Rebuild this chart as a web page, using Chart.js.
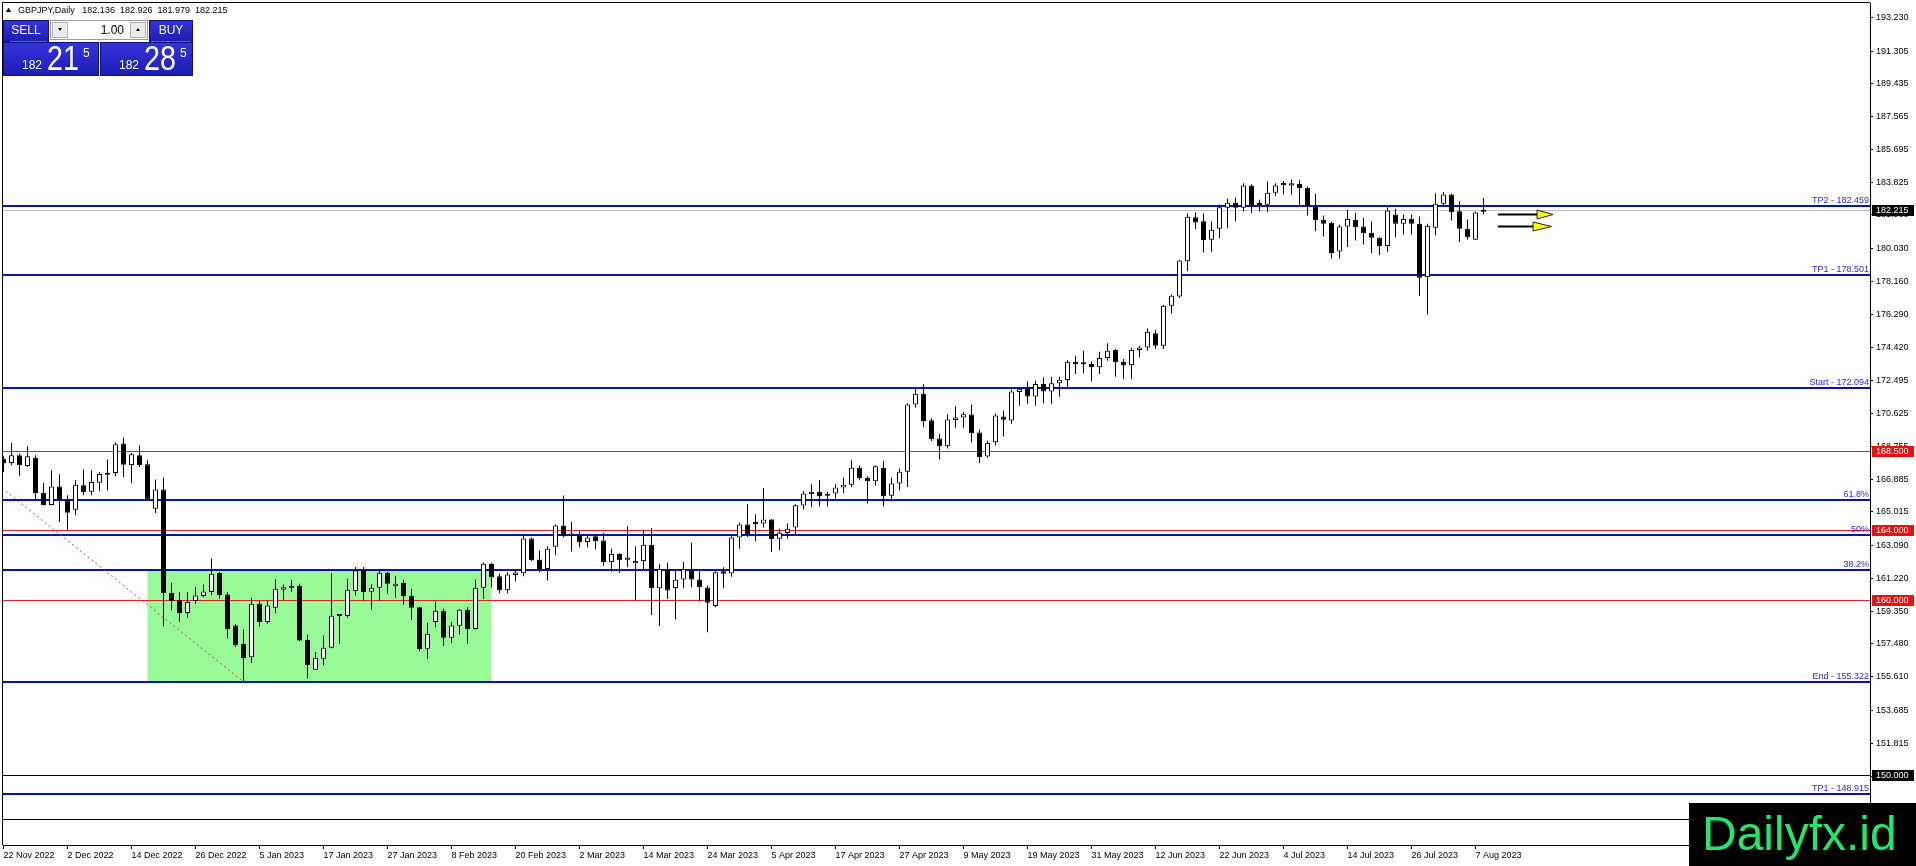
<!DOCTYPE html>
<html><head><meta charset="utf-8">
<script src="https://cdn.jsdelivr.net/npm/chart.js@4.4.0/dist/chart.umd.min.js"></script>
<style>html,body{margin:0;padding:0;background:#fff;overflow:hidden}canvas{display:block}</style>
</head><body>
<canvas id="c" width="1916" height="866"></canvas>
<script>
const symbolTitle = 'GBPJPY,Daily';
const opens = [168.05,167.81,168.24,167.64,168.11,166.11,165.41,166.46,165.68,165.14,166.53,166.17,166.68,167.14,167.24,168.91,167.69,168.24,167.73,165.20,
166.29,160.41,159.97,159.25,159.93,160.22,160.45,161.53,160.31,158.53,157.50,156.73,159.77,158.73,159.55,160.57,160.69,160.80,157.72,156.01,
156.64,157.26,159.09,159.07,160.50,161.71,160.46,160.69,161.54,160.78,160.97,160.23,159.57,157.21,158.73,159.37,157.83,158.52,159.43,158.33,
160.69,162.05,161.35,160.55,161.42,161.52,163.50,162.30,161.76,163.02,164.24,163.65,163.74,163.30,163.63,163.38,162.15,162.62,162.28,162.09,
162.22,163.14,160.66,161.76,160.68,161.16,161.76,161.16,160.70,159.64,161.63,161.50,163.55,164.29,164.46,164.35,164.58,163.49,163.81,164.12,
165.38,166.04,166.17,166.02,166.06,166.40,166.57,167.54,166.97,166.76,167.54,165.93,166.63,167.30,171.14,171.76,170.24,169.20,168.76,170.26,
170.40,170.57,169.54,168.17,168.99,170.46,170.23,171.85,172.04,171.60,172.31,171.89,172.35,172.54,173.58,173.45,173.45,173.26,173.79,174.25,
173.58,173.39,174.25,174.40,175.20,174.50,176.78,177.31,179.31,181.82,181.59,180.54,181.17,182.36,182.65,182.36,183.64,182.54,182.54,183.22,
183.68,183.64,183.73,183.51,182.44,181.68,181.51,179.87,181.30,181.68,181.30,180.94,180.65,180.18,181.98,181.45,181.74,181.45,178.41,181.22,
182.59,183.12,182.16,181.17,180.54,182.136];
const highs = [168.19,168.95,168.34,168.76,168.24,166.67,167.39,167.16,165.96,166.82,167.43,167.39,167.29,168.00,168.97,169.25,168.38,168.81,167.96,166.86,
166.97,160.98,160.45,160.45,160.73,160.87,162.35,161.59,160.45,158.60,158.30,160.12,159.93,159.93,161.18,160.88,161.14,160.91,158.02,157.02,
157.97,161.52,159.15,161.20,161.87,161.87,160.88,161.73,161.58,161.37,161.16,160.63,159.60,158.69,159.91,159.49,158.73,159.46,159.58,161.16,
162.13,162.11,161.48,161.57,161.67,163.70,163.55,162.81,163.06,164.29,165.95,164.46,163.89,163.67,163.70,163.82,162.91,162.65,164.20,163.06,
164.01,164.08,162.05,162.11,161.76,162.15,163.25,161.76,160.81,161.63,161.86,163.63,164.39,165.45,164.88,166.38,164.61,164.06,164.35,165.45,
166.21,166.59,166.82,166.17,166.59,166.97,167.96,167.66,167.05,167.68,167.92,166.97,167.49,171.21,172.11,172.30,170.34,169.48,170.59,171.04,
170.72,171.14,169.70,169.09,170.61,170.80,172.00,172.12,172.46,172.50,172.69,172.73,172.73,173.68,173.93,174.21,173.60,174.15,174.63,174.31,
173.74,174.36,174.50,175.48,175.39,176.83,177.41,179.38,182.04,182.10,182.04,181.58,182.55,182.88,182.93,183.77,183.70,182.82,183.87,183.77,
183.89,183.98,183.96,183.58,183.16,181.93,181.58,181.40,182.25,182.06,181.79,181.60,180.69,182.40,182.31,181.98,181.98,181.87,181.45,183.20,
183.26,183.16,182.73,181.70,182.15,182.926];
const lows = [167.29,167.67,167.07,167.58,165.72,165.38,165.39,164.44,164.00,164.84,165.96,165.96,166.21,166.25,167.05,167.01,166.67,167.58,165.70,164.95,
158.49,159.40,158.74,158.98,159.78,160.16,160.26,160.07,157.79,157.31,155.33,156.39,158.48,158.63,159.24,159.96,160.44,157.64,155.53,156.00,
156.26,157.24,157.49,158.98,160.25,159.93,159.43,159.93,160.34,160.12,159.72,158.86,157.07,156.64,158.44,157.36,157.53,158.02,157.49,158.30,
160.04,160.72,160.38,160.38,161.04,161.35,162.22,161.57,161.10,162.56,163.57,162.75,163.00,163.00,162.87,161.95,161.61,161.54,161.86,159.96,
161.76,159.14,158.50,160.05,158.87,160.66,160.72,159.90,158.15,159.58,160.66,161.31,162.92,163.59,163.36,164.12,162.73,162.83,163.49,163.74,
165.15,165.30,165.34,165.34,165.77,166.10,166.44,166.82,165.49,166.50,165.34,165.61,166.25,166.44,170.97,169.86,169.06,168.00,168.63,169.82,
169.82,168.99,167.81,168.10,168.80,169.32,170.04,171.07,171.17,171.07,171.21,171.17,171.59,172.08,172.88,172.92,172.46,172.88,173.64,172.73,
172.59,172.59,173.83,174.21,174.31,174.31,176.34,177.22,178.74,181.15,179.82,179.84,180.63,181.20,181.60,182.17,182.06,182.17,182.12,183.03,
183.13,183.11,182.46,181.93,181.03,180.73,179.45,179.45,180.12,180.50,180.27,179.78,179.65,179.84,180.69,180.84,180.84,177.33,176.26,180.79,
182.50,181.64,180.41,180.56,180.54,181.979];
const closes = [167.77,168.24,167.69,168.19,166.10,165.41,166.46,165.68,164.97,166.57,166.15,166.72,167.18,167.24,168.87,167.71,168.30,167.69,165.72,166.29,
160.39,159.93,159.25,159.88,160.24,160.47,161.49,160.28,158.34,157.41,156.68,159.77,158.73,159.68,160.63,160.71,160.80,157.68,156.28,156.69,
157.26,159.09,159.08,160.57,161.67,160.44,160.69,161.54,160.91,160.91,160.21,159.55,157.19,158.06,159.37,157.83,158.54,159.43,158.33,160.69,
162.06,161.29,160.55,161.44,161.56,163.50,162.26,161.76,162.91,164.24,163.63,163.78,163.29,163.55,163.34,162.15,162.62,162.26,162.41,162.22,
163.14,160.66,161.76,160.53,161.14,161.76,161.16,160.72,159.83,161.57,161.48,163.55,164.29,163.74,164.33,164.58,163.47,163.83,164.06,165.40,
166.06,166.17,165.91,165.93,166.40,166.57,167.54,166.95,166.78,167.62,165.91,166.63,167.30,171.14,171.76,170.20,169.16,168.76,170.28,170.40,
170.59,169.52,168.14,168.95,170.51,170.27,171.88,172.04,171.60,172.31,171.89,172.35,172.56,173.58,173.45,173.44,173.26,173.79,174.21,173.55,
173.36,174.25,174.40,175.29,174.50,176.78,177.35,179.35,181.85,181.53,180.52,181.11,182.40,182.65,182.36,183.64,182.50,182.52,183.22,183.64,
183.67,183.77,183.49,182.44,181.66,181.45,179.78,181.30,181.72,181.26,180.92,180.65,180.18,182.21,181.45,181.72,181.45,178.37,181.34,182.59,
183.12,182.12,181.17,180.69,182.10,182.215];

const xTickLabels = ['22 Nov 2022','2 Dec 2022','14 Dec 2022','26 Dec 2022','5 Jan 2023','17 Jan 2023','27 Jan 2023','8 Feb 2023',
'20 Feb 2023','2 Mar 2023','14 Mar 2023','24 Mar 2023','5 Apr 2023','17 Apr 2023','27 Apr 2023','9 May 2023','19 May 2023',
'31 May 2023','12 Jun 2023','22 Jun 2023','4 Jul 2023','14 Jul 2023','26 Jul 2023','7 Aug 2023'];
const xTickBars = [0,8,16,24,32,40,48,56,64,72,80,88,96,104,112,120,128,136,144,152,160,168,176,184];
const yTicks = [193.230,191.305,189.435,187.565,185.695,183.825,181.960,180.030,178.160,176.290,174.420,172.495,170.625,
168.755,166.885,165.015,163.090,161.220,159.350,157.480,155.610,153.685,151.815,149.945,148.075];

const levelNames = ['TP2 - 182.459','TP1 - 178.501','Start - 172.094','61.8%','50%','38.2%','End - 155.322','TP1 - 148.915'];
const levelValues = [182.459,178.501,172.094,165.687,163.708,161.729,155.322,148.915];
const redLevels = [168.5,164.0,160.0];
const blackLevels = [150.0,147.48];
const labelledBlack = [150.0];
const bidPrice = 182.215;
const askPrice = 182.285;
const lotSize = 1.00;
const boxBars = [18,61];
const boxPrices = [161.729,155.322];
const fibLineBars = [-15.8,30];
const fibLinePrices = [172.094,155.322];
const arrowStartBars = [186.8,186.8];
const arrowBaseBars = [191.7,191.2];
const arrowTipBars = [193.7,193.5];
const arrowPrices = [182.03,181.33];

const FONT = '"Liberation Sans", Arial, sans-serif';
Chart.defaults.font.family = FONT;
Chart.defaults.font.size = 9;
Chart.defaults.color = '#000';

const bodies = opens.map((o,i)=>({x:i, y:[Math.min(o,closes[i]), Math.max(o,closes[i])]}));
const wicks = lows.map((l,i)=>({x:i, y:[l, highs[i]]}));
const bodyColors = opens.map((o,i)=> closes[i] >= o ? '#ffffff' : '#000000');

const overlay = {
  id:'overlay',
  beforeDraw(chart){
    const c = chart.ctx; c.save(); c.fillStyle='#fff'; c.fillRect(0,0,chart.width,chart.height); c.restore();
  },
  beforeDatasetsDraw(chart){
    const {ctx:c, chartArea:a, scales:{x,y}} = chart;
    c.save();
    c.beginPath(); c.rect(a.left,a.top,a.right-a.left,a.bottom-a.top); c.clip();
    const bx0 = x.getPixelForValue(boxBars[0]), bx1 = x.getPixelForValue(boxBars[1]);
    const by0 = y.getPixelForValue(boxPrices[0]), by1 = y.getPixelForValue(boxPrices[1]);
    c.fillStyle = '#98fb98'; c.fillRect(bx0, by0, bx1-bx0, by1-by0);
    c.fillStyle = '#e02020';
    redLevels.forEach(v=>{ const py=Math.round(y.getPixelForValue(v)); c.fillRect(a.left, py, a.right-a.left, 1); });
    c.fillStyle = '#000';
    blackLevels.forEach(v=>{ const py=Math.round(y.getPixelForValue(v)); c.fillRect(a.left, py, a.right-a.left, 1); });
    c.fillStyle = '#c0c0c0';
    { const py=Math.round(y.getPixelForValue(bidPrice)); c.fillRect(a.left, py, a.right-a.left, 1); }
    c.font = '9px ' + FONT; c.textAlign='right'; c.textBaseline='alphabetic';
    levelValues.forEach((v,i)=>{
      const py=Math.round(y.getPixelForValue(v));
      c.fillStyle='#0a14a8'; c.fillRect(a.left, py-1, a.right-a.left, 2);
      c.fillStyle='#2a2ae6'; c.fillText(levelNames[i], a.right-1, py-3);
    });
    c.restore();
  },
  afterDatasetsDraw(chart){
    const {ctx:c, scales:{x,y}} = chart;
    c.save();
    arrowPrices.forEach((v,k)=>{
      const py = Math.round(y.getPixelForValue(v))+0.5;
      const p0 = x.getPixelForValue(arrowStartBars[k]);
      const pb = x.getPixelForValue(arrowBaseBars[k]);
      const pt = x.getPixelForValue(arrowTipBars[k]);
      c.strokeStyle='#000'; c.lineWidth=2;
      c.beginPath(); c.moveTo(p0,py); c.lineTo(pb,py); c.stroke();
      c.beginPath(); c.moveTo(pb,py-4.5); c.lineTo(pt,py); c.lineTo(pb,py+4.5); c.closePath();
      c.fillStyle='#ffff00'; c.fill(); c.lineWidth=1; c.strokeStyle='#222'; c.stroke();
    });
    c.restore();
  },
  afterDraw(chart){
    const {ctx:c, chartArea:a, scales:{y}} = chart;
    c.save();
    c.fillStyle='#000';
    c.fillRect(a.left-1, a.top-1, a.right-a.left+1, 1);
    c.fillRect(a.left-1, a.top-1, 1, a.bottom-a.top+1);
    c.font = '9px ' + FONT; c.textAlign='left'; c.textBaseline='middle';
    const box = (v, bg)=>{
      const py = Math.round(y.getPixelForValue(v));
      c.fillStyle=bg; c.fillRect(a.right+2, py-5, 42, 11);
      c.fillStyle='#fff'; c.fillText(v.toFixed(3), a.right+6, py+0.5);
    };
    redLevels.forEach(v=>box(v,'#e81010'));
    labelledBlack.forEach(v=>box(v,'#000'));
    box(bidPrice,'#000');
    // header
    c.fillStyle='#000';
    c.beginPath(); c.moveTo(6,12); c.lineTo(8.5,7.5); c.lineTo(11,12); c.closePath(); c.fill();
    const last = opens.length-1;
    c.textBaseline='alphabetic';
    c.fillText(symbolTitle + '   ' + opens[last].toFixed(3)+'  '+highs[last].toFixed(3)+'  '+lows[last].toFixed(3)+'  '+closes[last].toFixed(3), 18, 13);
    // trade panel
    const blue = (x0,y0,w,h)=>{
      const g = c.createLinearGradient(0,y0,0,y0+h);
      g.addColorStop(0,'#3434dc'); g.addColorStop(1,'#1c1cb4');
      c.fillStyle=g; c.fillRect(x0,y0,w,h);
      c.strokeStyle='#10107a'; c.lineWidth=1; c.strokeRect(x0+0.5,y0+0.5,w-1,h-1);
    };
    blue(3,20,46,22); blue(149,20,44,22); blue(3,42,96,34); blue(100,42,93,34);
    c.fillStyle='#5a5ae8'; c.fillRect(10,41,37,1); c.fillRect(151,41,40,1);
    c.font='12px '+FONT; c.fillStyle='#fff'; c.textAlign='center'; c.textBaseline='middle';
    c.fillText('SELL',26,31); c.fillText('BUY',171,31);
    c.fillStyle='#fff'; c.fillRect(50,20,98,20);
    c.strokeStyle='#9a9a9a'; c.strokeRect(50.5,20.5,97,19);
    c.fillStyle='#ececec'; c.fillRect(52,22,16,16); c.fillRect(130,22,16,16);
    c.strokeStyle='#b0b0b0'; c.strokeRect(52.5,22.5,15,15); c.strokeRect(130.5,22.5,15,15);
    c.fillStyle='#000';
    c.beginPath(); c.moveTo(58,28); c.lineTo(62,28); c.lineTo(60,31); c.closePath(); c.fill();
    c.beginPath(); c.moveTo(136,31); c.lineTo(140,31); c.lineTo(138,28); c.closePath(); c.fill();
    c.textAlign='right'; c.font='12px '+FONT; c.fillText(lotSize.toFixed(2), 124, 31);
    const drawPrice = (str, x0)=>{
      const big = str.slice(4,6), small = str.slice(0,3), sup = str.slice(6);
      c.fillStyle='#fff'; c.textAlign='left'; c.textBaseline='alphabetic';
      c.font='12px '+FONT; c.fillText(small, x0, 69);
      c.save(); c.translate(x0+25,70); c.scale(0.82,1); c.font='35px '+FONT; c.fillText(big,0,0); c.restore();
      c.font='12px '+FONT; c.fillText(sup, x0+61, 57);
    };
    drawPrice(bidPrice.toFixed(3), 22);
    drawPrice(askPrice.toFixed(3), 119);
    // watermark
    c.fillStyle='#000'; c.fillRect(chart.width-227, chart.height-63, 227, 63);
    c.fillStyle='#22e86a'; c.font='48px '+FONT; c.textAlign='left'; c.textBaseline='alphabetic';
    c.fillText('Dailyfx.id', chart.width-214, chart.height-16);
    c.restore();
  }
};

new Chart(document.getElementById('c'), {
  type:'bar',
  data:{ datasets:[
    { type:'bar', data:bodies, backgroundColor:bodyColors, borderColor:'#000', borderWidth:1, borderSkipped:false,
      barThickness:5, grouped:false, minBarLength:2, inflateAmount:0, order:0, clip:0 },
    { type:'bar', data:wicks, backgroundColor:'#000', borderWidth:0, barThickness:1, grouped:false, inflateAmount:0, order:1, clip:0 },
    { type:'line', data:fibLineBars.map((b,i)=>({x:b,y:fibLinePrices[i]})), borderColor:'#e03030', borderWidth:1,
      borderDash:[2,3], pointRadius:0, tension:0, order:2, fill:false }
  ]},
  options:{
    responsive:false, animation:false, devicePixelRatio:1,
    layout:{padding:{top:3,left:3,right:0,bottom:0}},
    plugins:{legend:{display:false}, tooltip:{enabled:false}},
    events:[],
    scales:{
      x:{ type:'linear', position:'bottom', offset:false, min:-0.0625, max:(1870-3.5)/8,
        grid:{offset:false, drawOnChartArea:false, drawTicks:true, tickLength:4, color:'#000'},
        border:{display:true, color:'#000'},
        ticks:{autoSkip:false, maxRotation:0, minRotation:0, align:'start', padding:1, font:{size:9}, color:'#000',
          callback:(v,i)=> xTickLabels[i] },
        afterBuildTicks:(s)=>{ s.ticks = xTickBars.map(v=>({value:v})); },
        afterFit:(s)=>{ s.height = 21; s.paddingLeft = 0; s.paddingRight = 0; s.paddingTop = 0; s.paddingBottom = 0; }
      },
      y:{ type:'linear', position:'right', min:146.013, max:194.046, beginAtZero:false,
        grid:{drawOnChartArea:false, drawTicks:true, tickLength:3, color:'#000'},
        border:{display:true, color:'#000'},
        ticks:{autoSkip:false, padding:3, font:{size:9}, color:'#000', callback:(v)=> Number(v).toFixed(3)},
        afterBuildTicks:(s)=>{ s.ticks = yTicks.map(v=>({value:v})); },
        afterFit:(s)=>{ s.width = 46; s.paddingTop = 0; s.paddingBottom = 0; s.paddingLeft = 0; s.paddingRight = 0; }
      }
    }
  },
  plugins:[overlay]
});
</script>
</body></html>
